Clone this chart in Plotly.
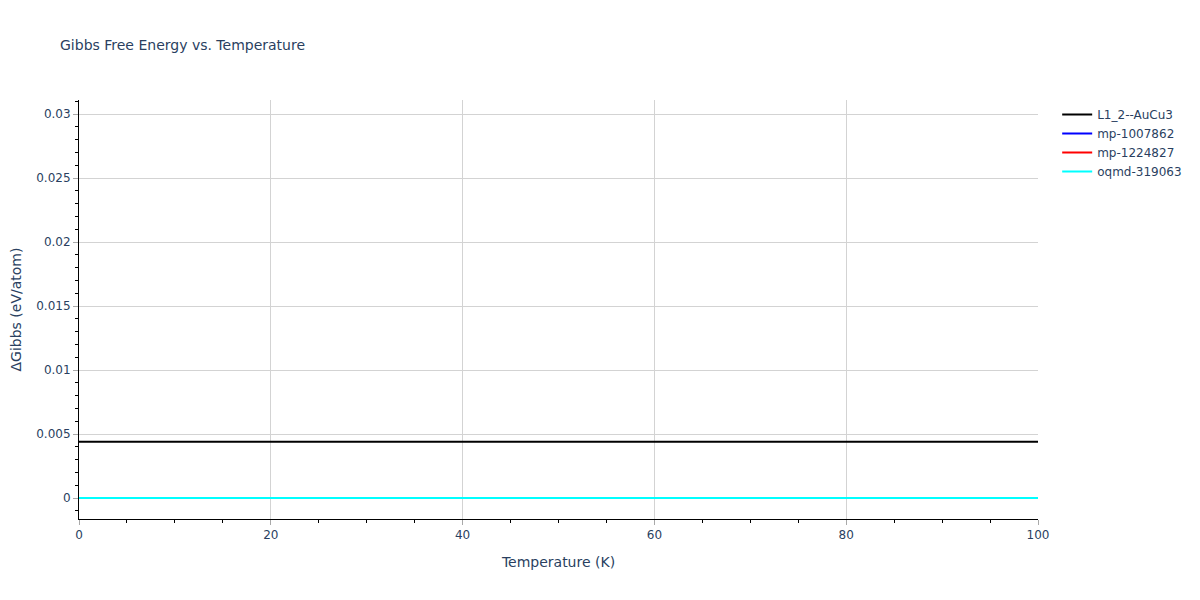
import plotly.graph_objects as go

temperature = [0, 10, 20, 30, 40, 50, 60, 70, 80, 90, 100]
series_names = ["L1_2--AuCu3", "mp-1007862", "mp-1224827", "oqmd-319063"]
series_colors = ["black", "blue", "red", "cyan"]
gibbs_l12 = [0.0044, 0.0044, 0.0044, 0.0044, 0.0044, 0.0044, 0.0044, 0.0044, 0.0044, 0.0044, 0.0044]
gibbs_mp1007862 = [0, 0, 0, 0, 0, 0, 0, 0, 0, 0, 0]
gibbs_mp1224827 = [0, 0, 0, 0, 0, 0, 0, 0, 0, 0, 0]
gibbs_oqmd319063 = [0, 0, 0, 0, 0, 0, 0, 0, 0, 0, 0]
series_values = [gibbs_l12, gibbs_mp1007862, gibbs_mp1224827, gibbs_oqmd319063]

fig = go.Figure()
for name, color, vals in zip(series_names, series_colors, series_values):
    fig.add_trace(go.Scatter(x=temperature, y=vals, mode="lines", name=name,
                             line=dict(color=color, width=2)))

fig.update_layout(
    template="plotly_white",
    width=1200, height=600,
    margin=dict(l=71, r=170, t=92, b=89),
    font=dict(family="DejaVu Sans", size=12, color="#2a3f5f"),
    title=dict(text="Gibbs Free Energy vs. Temperature", font=dict(size=14),
               x=52 / 1200, xanchor="left", y=1 - 37 / 600, yanchor="middle"),
    xaxis=dict(title="Temperature (K)", range=[0, 100], showline=True, linecolor="black",
               gridcolor="lightgrey", zeroline=False, ticks="outside", tickcolor="darkgrey",
               automargin=False,
               minor=dict(ticks="outside", dtick=5, tickcolor="black", showgrid=False)),
    yaxis=dict(title=dict(text="ΔGibbs (eV/atom)", standoff=18), range=[-0.00164, 0.0311],
               showline=True, linecolor="black", automargin=False,
               gridcolor="lightgrey", zeroline=False, ticks="outside", tickcolor="darkgrey",
               minor=dict(ticks="outside", dtick=0.001, tickcolor="black", showgrid=False)),
    legend=dict(x=1.02, y=1, xanchor="left", yanchor="top"),
    plot_bgcolor="white",
)

fig.write_html("out.html")
